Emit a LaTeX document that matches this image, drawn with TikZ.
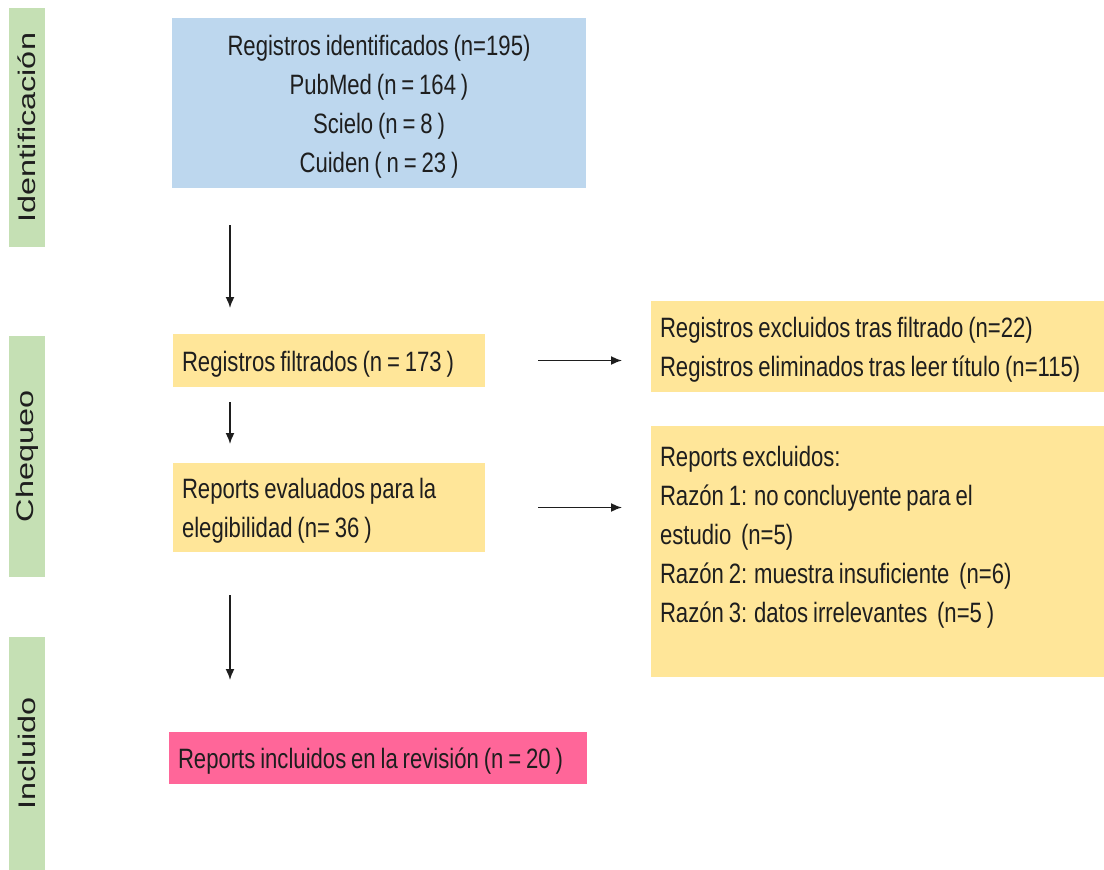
\documentclass[tikz,border=0pt]{standalone}
\usepackage{fontspec}
\setmainfont{Liberation Sans}
\newfontfamily\boxfont[FakeStretch=0.79, WordSpace=0.79]{Liberation Sans}
\newfontfamily\sidefont[FakeStretch=1.35, WordSpace=1.35]{Liberation Sans}
\usetikzlibrary{positioning, arrows.meta}

\definecolor{idblue}{RGB}{189,215,238}
\definecolor{chkyellow}{RGB}{255,230,153}
\definecolor{sidegreen}{RGB}{197,224,180}
\definecolor{inclpink}{RGB}{255,102,153}
\definecolor{inkgray}{RGB}{30,30,30}

\tikzset{
	box/.style={anchor=north west, inner sep=0pt, outer sep=0pt, text=inkgray,
		font=\boxfont\fontsize{28}{39}\selectfont},
	leftbox/.style={box, inner xsep=9pt, align=flush left},
	lowered/.style={execute at begin node={\rule{0pt}{27pt}}},
	sidebar/.style={fill=sidegreen, rotate=90, minimum height=36pt, inner sep=0pt,
		text=inkgray, font=\sidefont\fontsize{24}{26}\selectfont},
	flow/.style={->, line width=1.6pt, draw=inkgray}
}

\begin{document}
\begin{tikzpicture}[x=1pt, y=-1pt, >={Latex[length=11pt,width=9pt]}]
\useasboundingbox (0,0) rectangle (1104,870);

% Side labels
	\node (id_bar)		[sidebar, minimum width=239pt]	at (27,127.5)	{Identificación};
	\node (chk_bar)		[sidebar, minimum width=241pt]	at (27,456.5)	{Chequeo};
	\node (incl_bar)	[sidebar, minimum width=233pt]	at (27,753.5)	{Incluido};

% Main column
	\node (ident)	[box, lowered, fill=idblue, align=flush center, inner xsep=9pt, text width=396pt,
		minimum height=170pt]	at (172,18)
		{Registros identificados (n=195)\\ PubMed (n = 164 )\\ Scielo (n = 8 )\\ Cuiden ( n = 23 )};
	\node (filt)	[leftbox, lowered, fill=chkyellow, text width=294pt, minimum height=53pt]	at (173,334)
		{Registros filtrados (n = 173 )};
	\node (eval)	[leftbox, lowered, fill=chkyellow, text width=294pt, minimum height=89pt]	at (173,463)
		{Reports evaluados para la\\ elegibilidad (n= 36 )};
	\node (incl)	[leftbox, lowered, fill=inclpink, text width=400pt, minimum height=52pt]	at (169,732)
		{Reports incluidos en la revisión (n = 20 )};

% Exclusions
	\node (excl_filt)	[leftbox, lowered, fill=chkyellow, text width=435pt, minimum height=91pt]	at (651,301)
		{Registros excluidos tras filtrado (n=22)\\ Registros eliminados tras leer título (n=115)};
	\node (excl_eval)	[box, fill=chkyellow, minimum width=453pt, minimum height=251pt]	at (651,426) {};
	\node (excl_text)	[leftbox, inner ysep=20pt]	at (excl_eval.north west)
		{Reports excluidos:\\ Razón 1: no concluyente para el\\ estudio\ \ (n=5)\\
		 Razón 2: muestra insuficiente\ \ (n=6)\\ Razón 3: datos irrelevantes\ \ (n=5 )};

% Arrows
	\coordinate (spine) at (230,0);
	\draw[flow, shorten <=37pt, shorten >=26pt]	(spine |- ident.south)	-- (spine |- filt.north);
	\draw[flow, shorten <=15pt, shorten >=19pt]	(spine |- filt.south)	-- (spine |- eval.north);
	\draw[flow, shorten <=43pt, shorten >=52pt]	(spine |- eval.south)	-- (spine |- incl.north);
	\draw[flow, shorten <=53pt, shorten >=29pt]	(filt.east)	-- (filt.east -| excl_filt.west);
	\draw[flow, shorten <=53pt, shorten >=29pt]	(eval.east)	-- (eval.east -| excl_eval.west);

\end{tikzpicture}
\end{document}
